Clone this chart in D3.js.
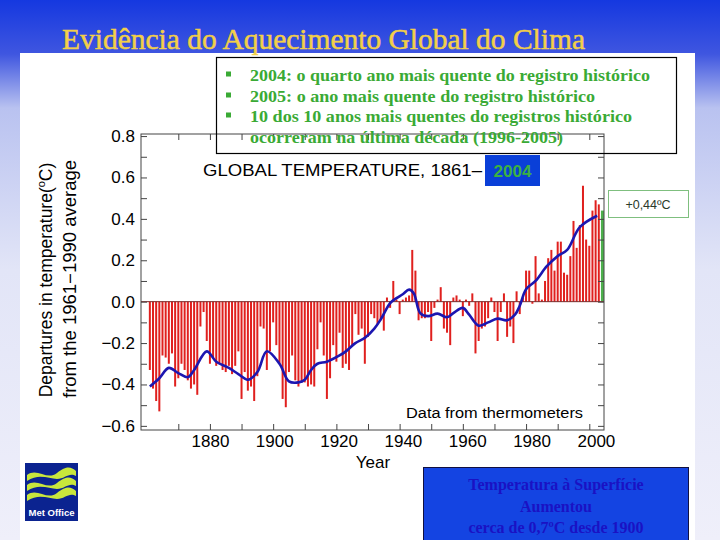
<!DOCTYPE html>
<html><head><meta charset="utf-8">
<script src="https://cdn.jsdelivr.net/npm/d3@7"></script>
<style>body{margin:0;padding:0;overflow:hidden}svg{display:block}</style>
</head><body>
<svg id="c" width="720" height="540"></svg>
<script>
// ---------- data ----------
const startYear = 1861;
const anomalies = [
 -0.33,-0.42,-0.48,-0.53,-0.26,-0.27,-0.30,-0.25,-0.41,-0.37,
 -0.30,-0.33,-0.38,-0.42,-0.40,-0.45,-0.12,-0.05,-0.19,-0.30,
 -0.27,-0.31,-0.30,-0.33,-0.34,-0.31,-0.35,-0.31,-0.24,-0.47,
 -0.34,-0.43,-0.41,-0.48,-0.36,-0.12,-0.13,-0.33,-0.24,-0.10,
 -0.21,-0.30,-0.47,-0.51,-0.34,-0.26,-0.38,-0.41,-0.39,-0.39,
 -0.41,-0.40,-0.41,-0.23,-0.10,-0.26,-0.47,-0.37,-0.21,-0.29,
 -0.15,-0.32,-0.30,-0.33,-0.21,-0.06,-0.16,-0.13,-0.30,-0.17,
 -0.06,-0.08,-0.11,-0.09,-0.14, 0.02,-0.03, 0.10, 0.01,-0.06,
  0.01, 0.02, 0.03, 0.25, 0.15,-0.09,-0.08,-0.08,-0.05,-0.19,
 -0.03, 0.01, 0.07,-0.13,-0.15,-0.21, 0.02, 0.03, 0.01,-0.07,
  0.01,-0.02, 0.04,-0.25,-0.19,-0.13,-0.12,-0.08, 0.02,-0.05,
 -0.19,-0.05, 0.04,-0.17,-0.12,-0.20, 0.05,-0.06, 0.02, 0.15,
  0.15,-0.01, 0.22, 0.04, 0.01, 0.10, 0.21, 0.25, 0.15, 0.29,
  0.29, 0.14, 0.13, 0.22, 0.39, 0.26, 0.37, 0.56, 0.30, 0.27,
  0.44, 0.49, 0.47, 0.44
];
const years = d3.range(startYear, startYear + anomalies.length);
const highlightYear = 2004;
const smoothYears  = [1861,1864,1867,1870,1873,1875,1879,1882,1886,1889,1892,1895,1898,1902,1905,1908,1910,1912,1914,1917,1921,1923,1926,1929,1932,1934,1937,1939,1941,1943,1944.5,1946.5,1949,1952,1955,1957,1960,1962,1965,1968,1971,1974,1976.5,1978,1980,1983,1986.5,1990,1993,1997,2002.5];
const smoothValues = [-0.41,-0.37,-0.32,-0.345,-0.365,-0.33,-0.24,-0.29,-0.32,-0.35,-0.377,-0.34,-0.24,-0.30,-0.385,-0.39,-0.377,-0.33,-0.30,-0.29,-0.26,-0.24,-0.20,-0.175,-0.13,-0.087,-0.007,0.017,0.036,0.058,0.04,-0.055,-0.07,-0.058,-0.075,-0.055,-0.03,-0.063,-0.116,-0.10,-0.082,-0.09,-0.063,-0.02,0.06,0.10,0.17,0.22,0.25,0.36,0.415];
const yTickLabels = [-0.6,-0.4,-0.2,0.0,0.2,0.4,0.6,0.8];
const yMinorTicks = [-0.6,-0.5,-0.4,-0.3,-0.2,-0.1,0,0.1,0.2,0.3,0.4,0.5,0.6,0.7,0.8];
const xTickLabels = [1880,1900,1920,1940,1960,1980,2000];
const xMinorTicks = [1870,1880,1890,1900,1910,1920,1930,1940,1950,1960,1970,1980,1990,2000];
const pageTitle = "Evidência do Aquecimento Global do Clima";
const bulletLines = [
 "2004: o quarto ano mais quente do registro histórico",
 "2005: o ano mais quente do registro histórico",
 "10 dos 10 anos mais quentes do registros histórico",
 "ocorreram na última década (1996-2005)"
];
const chartTitle = "GLOBAL TEMPERATURE, 1861\u2013";
const yTitle1 = "Departures in temperature(";
const yTitle2 = "from the 1961\u22121990 average";
const noteLines = ["Temperatura à Superfície","Aumentou","cerca de 0,7ºC desde 1900"];

// ---------- drawing ----------
const svg = d3.select("#c");
const defs = svg.append("defs");
const g = defs.append("linearGradient").attr("id","bg").attr("x1",0).attr("y1",0).attr("x2",0).attr("y2",1);
[[0,"#1538e0"],[0.1,"#3f56e0"],[0.2,"#b9c2f0"],[0.5,"#e2e5f7"],[1,"#efeffa"]].forEach(s=>g.append("stop").attr("offset",s[0]).attr("stop-color",s[1]));
svg.append("rect").attr("width",720).attr("height",540).attr("fill","url(#bg)");
svg.append("rect").attr("x",20).attr("y",53).attr("width",675).attr("height",487).attr("fill","#ffffff");

svg.append("text").attr("x",62).attr("y",49).attr("font-family","Liberation Serif, Times New Roman, serif")
  .attr("font-size",29).attr("fill","#f2cf48").attr("stroke","#f2cf48").attr("stroke-width",0.5)
  .attr("textLength",523).attr("lengthAdjust","spacingAndGlyphs").text(pageTitle);

const x = d3.scaleLinear().domain([1858.2, 2004.65]).range([141, 604]);
const y = d3.scaleLinear().domain([-0.62, 0.81]).range([430, 134]);

const plot = svg.append("g");
// bars
plot.selectAll("rect.bar").data(years).join("rect").attr("class","bar")
  .attr("x", d => x(d) - 1)
  .attr("width", d => d === highlightYear ? 3 : 2)
  .attr("y", (d,i) => y(Math.max(0, anomalies[i])))
  .attr("height", (d,i) => Math.abs(y(anomalies[i]) - y(0)))
  .attr("fill", d => d === highlightYear ? "#4cb04c" : "#e0201e");
// zero line
plot.append("line").attr("x1",x(1858.2)).attr("x2",x(2004.65)).attr("y1",y(0)).attr("y2",y(0)).attr("stroke","#7a2a2a").attr("stroke-width",1);
// smooth
const line = d3.line().x((d,i)=>x(smoothYears[i])).y(d=>y(d)).curve(d3.curveCatmullRom);
plot.append("path").attr("d", line(smoothValues)).attr("fill","none").attr("stroke","#1c16b0").attr("stroke-width",2.6);

// frame
svg.append("rect").attr("x",141).attr("y",134).attr("width",463).attr("height",296).attr("fill","none").attr("stroke","#444").attr("stroke-width",1);

const axFont = "Liberation Sans, Arial, sans-serif";
function styleAxis(sel){ sel.select(".domain").remove(); sel.selectAll("line").attr("stroke","#444"); sel.selectAll("text").attr("font-family",axFont).attr("font-size",17).attr("fill","#000"); }
svg.append("g").attr("transform","translate(141,0)").call(d3.axisLeft(y).tickValues(yMinorTicks).tickSize(-6).tickFormat("")).call(styleAxis);
svg.append("g").attr("transform","translate(141,0)").call(d3.axisLeft(y).tickValues(yTickLabels).tickSize(0).tickPadding(6).tickFormat(d3.format(".1f"))).call(styleAxis);
svg.append("g").attr("transform","translate(604,0)").call(d3.axisRight(y).tickValues(yMinorTicks).tickSize(-6).tickFormat("")).call(styleAxis);
svg.append("g").attr("transform","translate(0,430)").call(d3.axisBottom(x).tickValues(xMinorTicks).tickSize(-6).tickFormat("")).call(styleAxis);
svg.append("g").attr("transform","translate(0,430)").call(d3.axisBottom(x).tickValues(xTickLabels).tickSize(0).tickPadding(5).tickFormat(d3.format("d")))
  .call(styleAxis).call(s => s.selectAll("text").attr("dx", d => (d - 1880) * 0.055));
svg.append("g").attr("transform","translate(0,134)").call(d3.axisTop(x).tickValues(xMinorTicks).tickSize(-6).tickFormat("")).call(styleAxis);

// axis titles
svg.append("text").attr("x",373).attr("y",468).attr("text-anchor","middle").attr("font-family",axFont).attr("font-size",17).text("Year");
const yt = svg.append("text").attr("transform","translate(52,280) rotate(-90)").attr("text-anchor","middle").attr("font-family",axFont).attr("font-size",17.5);
yt.append("tspan").text(yTitle1);
yt.append("tspan").attr("font-size",11).attr("dy",-7).text("o");
yt.append("tspan").attr("dy",7).text("C)");
svg.append("text").attr("transform","translate(76,279) rotate(-90)").attr("text-anchor","middle").attr("font-family",axFont).attr("font-size",17.5).attr("textLength",238).attr("lengthAdjust","spacingAndGlyphs").text(yTitle2);
svg.append("text").attr("x",406).attr("y",418).attr("font-family",axFont).attr("font-size",15.5).attr("textLength",177).attr("lengthAdjust","spacingAndGlyphs").text("Data from thermometers");

// chart title
svg.append("text").attr("x",203).attr("y",176).attr("font-family",axFont).attr("font-size",17).attr("textLength",279).attr("lengthAdjust","spacingAndGlyphs").text(chartTitle);
svg.append("rect").attr("x",485).attr("y",155).attr("width",55).attr("height",31).attr("fill","#0a3fd8");
svg.append("text").attr("x",512.5).attr("y",177).attr("text-anchor","middle").attr("font-family",axFont).attr("font-weight","bold").attr("font-size",17).attr("fill","#3cb043").text(String(highlightYear));

// +0,44 box
svg.append("rect").attr("x",608.5).attr("y",190.5).attr("width",80).attr("height",27).attr("fill","#fff").attr("stroke","#7fbf7f");
svg.append("text").attr("x",648).attr("y",209).attr("text-anchor","middle").attr("font-family",axFont).attr("font-size",12.5).attr("fill","#2a3a2a").text("+0,44ºC");

// bullet box
svg.append("rect").attr("x",216.5).attr("y",57.5).attr("width",460).attr("height",96).attr("fill","none").attr("stroke","#000").attr("stroke-width",1.2);
const bl = [80.5,101.5,121.5,142.5];
const blW = [400,345,382,313];
bulletLines.forEach((t,i)=>{
  if(i<3) svg.append("rect").attr("x",226).attr("y",bl[i]-9).attr("width",5).attr("height",5).attr("fill","#3aaa35");
  svg.append("text").attr("x",250).attr("y",bl[i]).attr("font-family","Liberation Serif, Times New Roman, serif").attr("font-weight","bold")
    .attr("font-size",16).attr("fill","#3aaa35").attr("textLength",blW[i]).attr("lengthAdjust","spacingAndGlyphs").text(t);
});

// bottom note box
svg.append("rect").attr("x",423.5).attr("y",467.5).attr("width",265).attr("height",80).attr("fill","#1444e2").attr("stroke","#101040");
noteLines.forEach((t,i)=>{
  svg.append("text").attr("x",556).attr("y",490+i*21.5).attr("text-anchor","middle").attr("font-family","Liberation Serif, Times New Roman, serif")
    .attr("font-weight","bold").attr("font-size",16).attr("fill","#1a12c4").text(t);
});

// Met Office logo
const logo = svg.append("g").attr("transform","translate(25,463)");
logo.append("rect").attr("width",53).attr("height",58).attr("fill","#0b2390");
[8,18,28].forEach(o=>{
  logo.append("path").attr("d",`M2,${o+4} C12,${o-4} 22,${o+10} 32,${o+2} S46,${o-4} 51,${o} L51,${o+5} C44,${o+1} 40,${o+8} 32,${o+8} S14,${o+2} 2,${o+10} Z`).attr("fill","#c9e63c");
});
logo.append("text").attr("x",26.5).attr("y",53).attr("text-anchor","middle").attr("font-family",axFont).attr("font-weight","bold").attr("font-size",9).attr("fill","#fff").attr("textLength",46).attr("lengthAdjust","spacingAndGlyphs").text("Met Office");
</script>
</body></html>
